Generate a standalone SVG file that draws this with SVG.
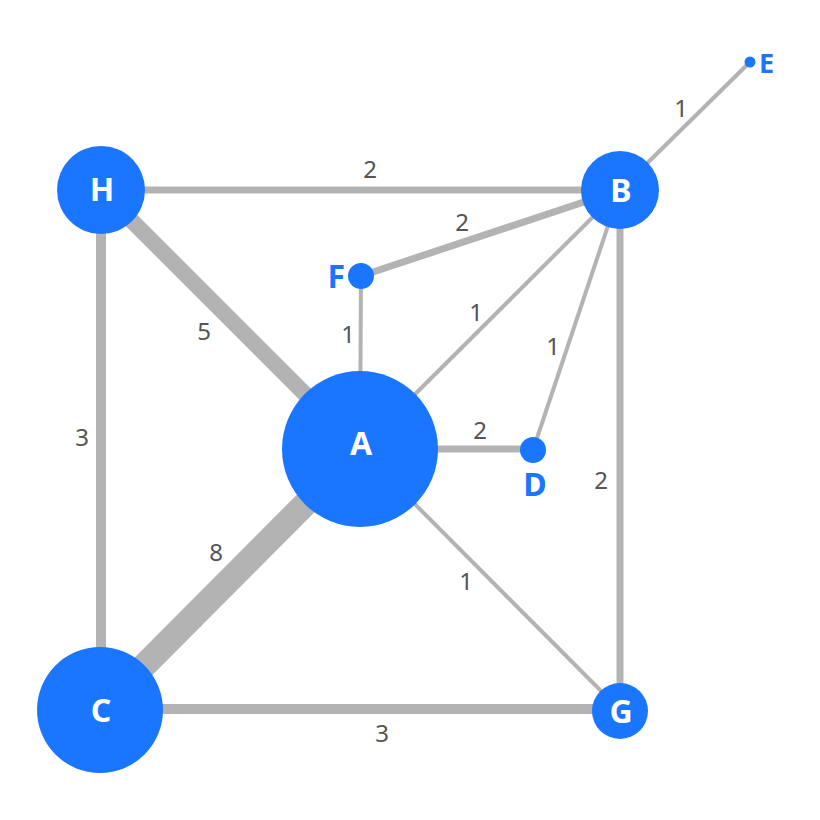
<svg xmlns="http://www.w3.org/2000/svg" width="820" height="820" viewBox="0 0 820 820">
<style>
.e{stroke:#b3b3b3;fill:none}
.n{fill:#1a76ff}
.nl{font-family:"Noto Sans","Open Sans",sans-serif;font-weight:bold;font-size:32px;fill:#fff;text-anchor:middle}
.ol{font-family:"Noto Sans","Open Sans",sans-serif;font-weight:bold;font-size:32px;fill:#1a76ff}
.w{font-family:"Noto Sans","Open Sans",sans-serif;font-size:24px;fill:#555;text-anchor:middle}
</style>
<rect width="820" height="820" fill="#fff"/>
<g id="edges">
<line class="e" x1="620" y1="190" x2="750" y2="62" stroke-width="4"/>
<line class="e" x1="101" y1="190" x2="620" y2="190" stroke-width="7"/>
<line class="e" x1="361" y1="276" x2="620" y2="190" stroke-width="7"/>
<line class="e" x1="360" y1="449" x2="620" y2="190" stroke-width="4"/>
<line class="e" x1="361" y1="276" x2="360" y2="449" stroke-width="4"/>
<line class="e" x1="533" y1="450" x2="620" y2="190" stroke-width="4"/>
<line class="e" x1="360" y1="449" x2="533" y2="449" stroke-width="7"/>
<line class="e" x1="101" y1="190" x2="360" y2="449" stroke-width="16"/>
<line class="e" x1="101" y1="190" x2="101" y2="710" stroke-width="10"/>
<line class="e" x1="620" y1="190" x2="620" y2="710" stroke-width="7"/>
<line class="e" x1="360" y1="449" x2="100" y2="710" stroke-width="25"/>
<line class="e" x1="360" y1="449" x2="620" y2="710" stroke-width="4"/>
<line class="e" x1="100" y1="709" x2="620" y2="709" stroke-width="10"/>
<text class="w" x="681" y="117">1</text>
<text class="w" x="370" y="178">2</text>
<text class="w" x="462" y="231">2</text>
<text class="w" x="476" y="321">1</text>
<text class="w" x="348" y="343">1</text>
<text class="w" x="553" y="355">1</text>
<text class="w" x="480" y="439">2</text>
<text class="w" x="204" y="340">5</text>
<text class="w" x="82" y="446">3</text>
<text class="w" x="601" y="489">2</text>
<text class="w" x="216" y="561">8</text>
<text class="w" x="466" y="590">1</text>
<text class="w" x="382" y="742">3</text>
</g>
<g id="node-A"><circle class="n" cx="360" cy="449" r="78"/><text class="nl" x="361" y="455">A</text></g>
<g id="node-B"><circle class="n" cx="620" cy="190" r="39"/><text class="nl" x="621" y="202">B</text></g>
<g id="node-H"><circle class="n" cx="101" cy="190" r="44"/><text class="nl" x="102" y="201">H</text></g>
<g id="node-C"><circle class="n" cx="100" cy="710" r="63"/><text class="nl" x="101" y="722">C</text></g>
<g id="node-G"><circle class="n" cx="620" cy="711" r="28"/><text class="nl" x="621" y="723">G</text></g>
<g id="node-F"><circle class="n" cx="361" cy="276" r="13"/><text class="ol" x="345" y="288" text-anchor="end">F</text></g>
<g id="node-D"><circle class="n" cx="533" cy="450" r="13"/><text class="ol" x="535" y="496" text-anchor="middle">D</text></g>
<g id="node-E"><circle class="n" cx="750" cy="62" r="5.5"/><text class="ol" x="759" y="73" style="font-size:27px">E</text></g>
</svg>
